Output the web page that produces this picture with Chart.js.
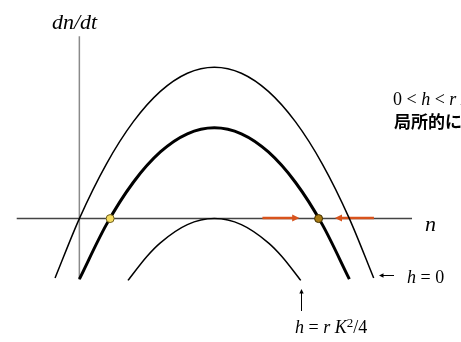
<!DOCTYPE html>
<html>
<head>
<meta charset="utf-8">
<script src="https://cdn.jsdelivr.net/npm/chart.js@4/dist/chart.umd.min.js"></script>
<style>
  body { margin: 0; background: #fff; }
  #wrap { width: 461px; height: 342px; position: relative; }
</style>
</head>
<body>
<div id="wrap"><canvas id="chart"></canvas></div>
<script>
// n (K = 1) and dn/dt (r = 1)
const nH0 = [-0.09, 0, 0.1, 0.2, 0.3, 0.4, 0.5, 0.6, 0.7, 0.8, 0.9, 1.0, 1.09];
const fH0 = [-0.098, 0, 0.09, 0.16, 0.21, 0.24, 0.25, 0.24, 0.21, 0.16, 0.09, 0, -0.098];

const nMid = [0, 0.1, 0.2, 0.3, 0.4, 0.5, 0.6, 0.7, 0.8, 0.9, 1.0];
const fMid = [-0.10, -0.01, 0.06, 0.11, 0.14, 0.15, 0.14, 0.11, 0.06, -0.01, -0.10];

const nMax = [0.18, 0.25, 0.3, 0.4, 0.5, 0.6, 0.7, 0.75, 0.82];
const fMax = [-0.102, -0.0625, -0.04, -0.01, 0, -0.01, -0.04, -0.0625, -0.102];

// equilibria on the thick curve
const eqN = [0.114, 0.886];
const eqColors = ["#f6dc62", "#a87a12"];
const eqBorders = ["#6e5e1c", "#3e2e00"];

// orange flow arrows along the n axis [from, to]
const flowArrows = [[0.678, 0.815], [1.091, 0.946]];

function pts(xs, ys) {
    return xs.map((x, i) => ({ x: x, y: ys[i] }));
}

function arrowHead(ctx, x1, y1, x2, y2, size) {
    const a = Math.atan2(y2 - y1, x2 - x1);
    ctx.beginPath();
    ctx.moveTo(x2, y2);
    ctx.lineTo(x2 - size * Math.cos(a - 0.45), y2 - size * Math.sin(a - 0.45));
    ctx.lineTo(x2 - size * Math.cos(a + 0.45), y2 - size * Math.sin(a + 0.45));
    ctx.closePath();
    ctx.fill();
}

function runs(ctx, x, y, parts, size) {
    parts.forEach((p) => {
        ctx.font = (p.it ? "italic " : "") + (p.sup ? Math.round(size * 0.7) : size) + "px 'Liberation Serif', serif";
        ctx.fillText(p.t, x, p.sup ? y - size * 0.33 : y);
        x += ctx.measureText(p.t).width;
    });
}

const decor = {
    id: "decor",
    beforeDatasetsDraw(chart) {
        const ctx = chart.ctx;
        const sx = chart.scales.x, sy = chart.scales.y;
        const x0 = sx.getPixelForValue(0), y0 = sy.getPixelForValue(0);
        ctx.save();
        // axes
        ctx.strokeStyle = "#8a8a8a";
        ctx.lineWidth = 1.5;
        ctx.beginPath();
        ctx.moveTo(x0, sy.getPixelForValue(0.301));
        ctx.lineTo(x0, sy.getPixelForValue(-0.101));
        ctx.stroke();
        ctx.strokeStyle = "#444";
        ctx.beginPath();
        ctx.moveTo(sx.getPixelForValue(-0.232), y0);
        ctx.lineTo(sx.getPixelForValue(1.232), y0);
        ctx.stroke();
        // flow arrows
        ctx.strokeStyle = "#d8531c";
        ctx.fillStyle = "#d8531c";
        ctx.lineWidth = 2.5;
        flowArrows.forEach(([a, b]) => {
            const xa = sx.getPixelForValue(a), xb = sx.getPixelForValue(b);
            const dir = Math.sign(xb - xa);
            ctx.beginPath();
            ctx.moveTo(xa, y0 - 0.5);
            ctx.lineTo(xb - dir * 5, y0 - 0.5);
            ctx.stroke();
            arrowHead(ctx, xa, y0 - 0.5, xb, y0 - 0.5, 8);
        });
        ctx.restore();
    },
    afterDatasetsDraw(chart) {
        const ctx = chart.ctx;
        ctx.save();
        ctx.fillStyle = "#000";
        ctx.textBaseline = "alphabetic";
        ctx.textAlign = "left";
        // axis titles
        ctx.font = "italic 22px 'Liberation Serif', serif";
        ctx.fillText("dn/dt", 52, 29);
        ctx.font = "italic 22px 'Liberation Serif', serif";
        ctx.fillText("n", 425, 231);
        // condition note (runs off the right edge)
        runs(ctx, 393, 105, [{ t: "0 < " }, { t: "h", it: true }, { t: " < " }, { t: "r", it: true },
            { t: " K", it: true }, { t: "2", sup: true }, { t: "/4 のとき" }], 18);
        ctx.font = "bold 17px 'Noto Sans CJK JP', sans-serif";
        ctx.fillText("局所的に安定", 394, 128);
        // curve labels
        runs(ctx, 407, 283, [{ t: "h", it: true }, { t: " = 0" }], 18);
        runs(ctx, 295, 333, [{ t: "h", it: true }, { t: " = " }, { t: "r", it: true }, { t: " K", it: true },
            { t: "2", sup: true }, { t: "/4" }], 18);
        // pointer arrows
        ctx.strokeStyle = "#000";
        ctx.lineWidth = 1;
        ctx.beginPath();
        ctx.moveTo(394, 275.5);
        ctx.lineTo(382, 275.5);
        ctx.moveTo(301.5, 311);
        ctx.lineTo(301.5, 293);
        ctx.stroke();
        arrowHead(ctx, 394, 275.5, 379, 275.5, 5);
        arrowHead(ctx, 301.5, 311, 301.5, 289, 5);
        ctx.restore();
    }
};

const curve = (xs, ys, w) => ({
    data: pts(xs, ys),
    showLine: true,
    borderColor: "#000",
    borderWidth: w,
    pointRadius: 0,
    cubicInterpolationMode: "monotone",
    order: 2
});

new Chart(document.getElementById("chart"), {
    type: "scatter",
    data: {
        datasets: [
            curve(nH0, fH0, 1.5),
            curve(nMid, fMid, 3),
            curve(nMax, fMax, 1.5),
            {
                data: eqN.map((x) => ({ x: x, y: 0 })),
                pointRadius: 4,
                pointBackgroundColor: eqColors,
                pointBorderColor: eqBorders,
                pointBorderWidth: 1,
                order: 0
            }
        ]
    },
    options: {
        responsive: true,
        maintainAspectRatio: false,
        animation: false,
        layout: { padding: 0 },
        plugins: { legend: { display: false }, tooltip: { enabled: false } },
        scales: {
            x: { type: "linear", display: false, min: -0.2754, max: 1.3949 },
            y: { type: "linear", display: false, min: -0.1955, max: 0.3526 }
        }
    },
    plugins: [decor]
});
</script>
</body>
</html>
